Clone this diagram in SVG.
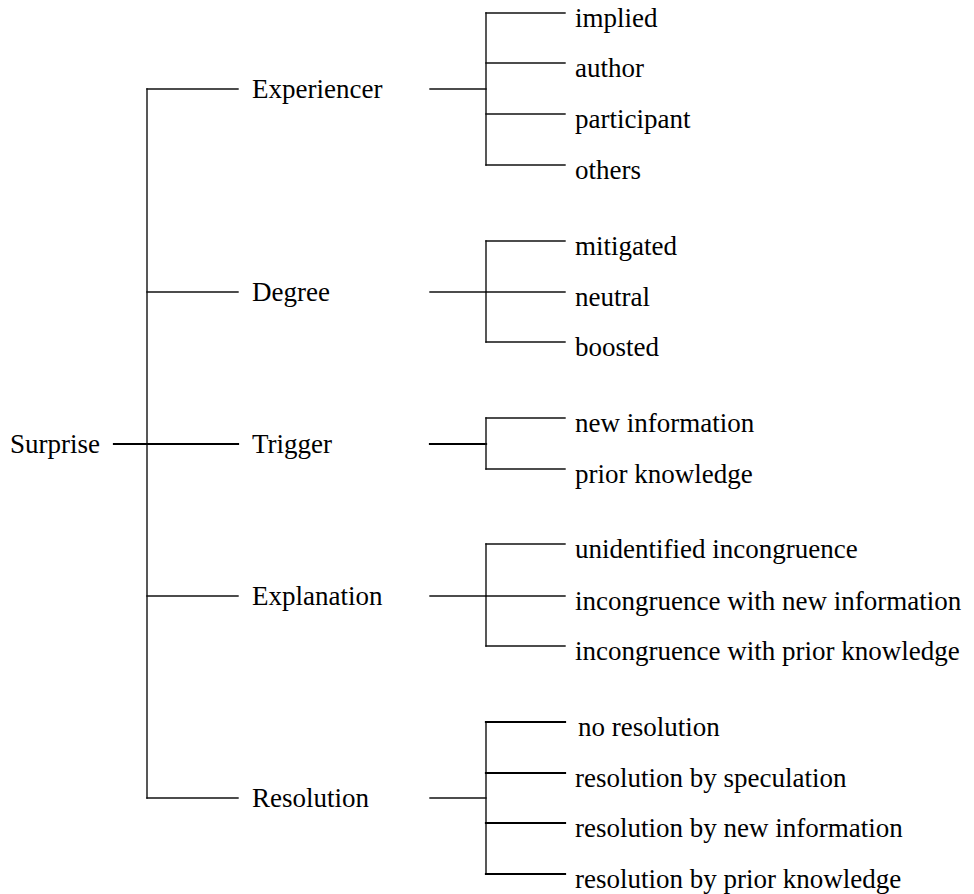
<svg xmlns="http://www.w3.org/2000/svg" width="974" height="894" viewBox="0 0 974 894">
<style>
text{font-family:"Liberation Serif","Times New Roman",serif;font-size:27px;fill:#000}
line{stroke:#111;stroke-width:1.4;stroke-linecap:square}
.thick{stroke:#000;stroke-width:2.2}
</style>
<rect width="974" height="894" fill="#fff"/>
<g id="connectors">
<line x1="147" y1="89" x2="147" y2="798"/>
<line class="thick" x1="114" y1="444" x2="238" y2="444"/>
<line x1="147" y1="89" x2="238" y2="89"/>
<line x1="147" y1="292" x2="238" y2="292"/>
<line x1="147" y1="596" x2="238" y2="596"/>
<line x1="147" y1="798" x2="238" y2="798"/>
<line x1="430" y1="89" x2="486" y2="89"/>
<line x1="430" y1="292" x2="486" y2="292"/>
<line class="thick" x1="430" y1="444" x2="486" y2="444"/>
<line x1="430" y1="596" x2="486" y2="596"/>
<line x1="430" y1="798" x2="486" y2="798"/>
<line x1="486" y1="13" x2="486" y2="165"/>
<line x1="486" y1="13" x2="565" y2="13"/>
<line x1="486" y1="63" x2="565" y2="63"/>
<line x1="486" y1="114" x2="565" y2="114"/>
<line x1="486" y1="165" x2="565" y2="165"/>
<line x1="486" y1="241" x2="486" y2="342"/>
<line x1="486" y1="241" x2="565" y2="241"/>
<line x1="486" y1="292" x2="565" y2="292"/>
<line x1="486" y1="342" x2="565" y2="342"/>
<line x1="486" y1="418" x2="486" y2="469"/>
<line x1="486" y1="418" x2="565" y2="418"/>
<line x1="486" y1="469" x2="565" y2="469"/>
<line x1="486" y1="544" x2="486" y2="646"/>
<line x1="486" y1="544" x2="565" y2="544"/>
<line x1="486" y1="596" x2="565" y2="596"/>
<line x1="486" y1="646" x2="565" y2="646"/>
<line x1="486" y1="722" x2="486" y2="874"/>
<line class="thick" x1="486" y1="722" x2="565" y2="722"/>
<line class="thick" x1="486" y1="773" x2="565" y2="773"/>
<line class="thick" x1="486" y1="823" x2="565" y2="823"/>
<line class="thick" x1="486" y1="874" x2="565" y2="874"/>
</g>
<g id="surprise"><text x="10" y="453">Surprise</text></g>
<g id="experiencer"><text x="252" y="98">Experiencer</text></g>
<g id="degree"><text x="252" y="301">Degree</text></g>
<g id="trigger"><text x="252" y="453">Trigger</text></g>
<g id="explanation"><text x="252" y="605">Explanation</text></g>
<g id="resolution"><text x="252" y="807">Resolution</text></g>
<g id="implied"><text x="575" y="27">implied</text></g>
<g id="author"><text x="575" y="77">author</text></g>
<g id="participant"><text x="575" y="128">participant</text></g>
<g id="others"><text x="575" y="179">others</text></g>
<g id="mitigated"><text x="575" y="255">mitigated</text></g>
<g id="neutral"><text x="575" y="306">neutral</text></g>
<g id="boosted"><text x="575" y="356">boosted</text></g>
<g id="new-information"><text x="575" y="432">new information</text></g>
<g id="prior-knowledge"><text x="575" y="483">prior knowledge</text></g>
<g id="unidentified-incongruence"><text x="575" y="558">unidentified incongruence</text></g>
<g id="incongruence-new"><text x="575" y="610">incongruence with new information</text></g>
<g id="incongruence-prior"><text x="575" y="660">incongruence with prior knowledge</text></g>
<g id="no-resolution"><text x="578" y="736">no resolution</text></g>
<g id="resolution-speculation"><text x="575" y="787">resolution by speculation</text></g>
<g id="resolution-new"><text x="575" y="837">resolution by new information</text></g>
<g id="resolution-prior"><text x="575" y="888">resolution by prior knowledge</text></g>
</svg>
